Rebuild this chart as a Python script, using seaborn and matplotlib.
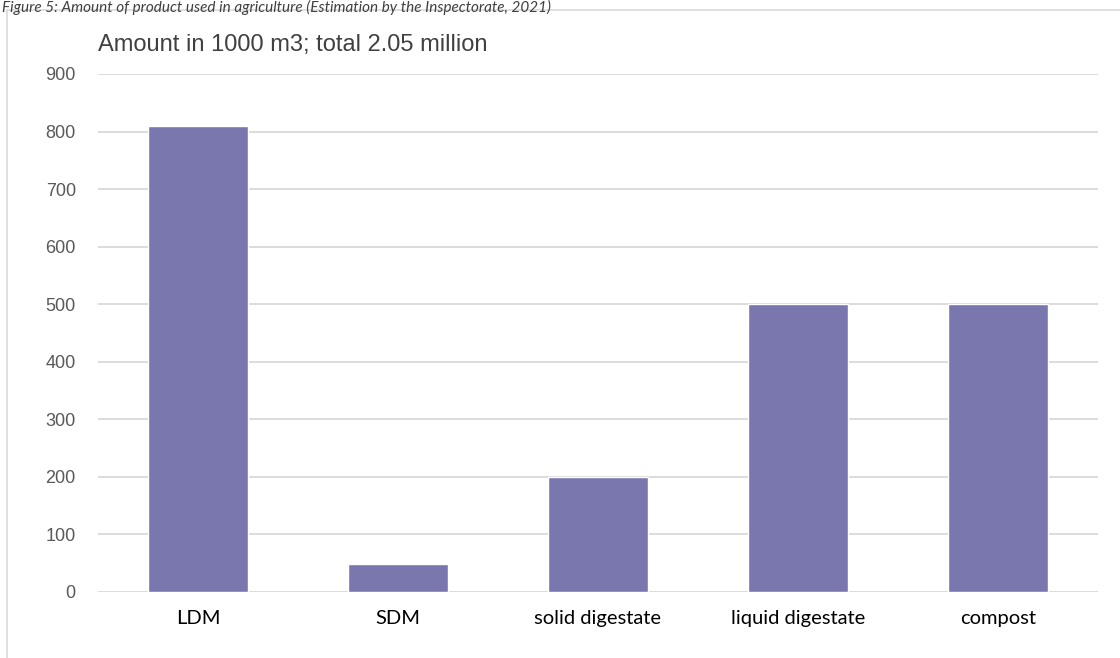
import matplotlib
matplotlib.use("Agg")
import matplotlib.pyplot as plt
import seaborn as sns
import pandas as pd
from matplotlib.patches import Rectangle

categories = ["LDM", "SDM", "solid digestate", "liquid digestate", "compost"]
values = [810, 48, 200, 500, 500]
yticks = [0, 100, 200, 300, 400, 500, 600, 700, 800, 900]
title = "Amount in 1000 m3; total 2.05 million"
caption = "Figure 5: Amount of product used in agriculture (Estimation by the Inspectorate, 2021)"

df = pd.DataFrame({"category": categories, "value": values})

sns.set_theme(style="white")
plt.rcParams['font.family'] = ['Liberation Sans', 'DejaVu Sans']

fig = plt.figure(figsize=(11.2, 6.58), dpi=100)
ax = fig.add_axes([98/1120, 1-592/658, 1000/1120, (592-74)/658])

sns.barplot(data=df, x="category", y="value", color="#7A77AF", saturation=1,
            width=0.5, ax=ax, zorder=3)

ax.set_ylim(0, 900)
ax.set_xlim(-0.5, 4.5)
ax.set_yticks(yticks)
ax.set_yticklabels([str(t) for t in yticks], fontsize=13, color="#595959",
                   family=['Liberation Sans', 'DejaVu Sans'])
ax.set_xticks(range(len(categories)))
ax.set_xticklabels(categories, fontsize=14.5, color="#000000",
                   family=['Lato', 'DejaVu Sans'])
ax.tick_params(axis='y', length=0, pad=16)
ax.tick_params(axis='x', length=0, pad=13)
ax.set_xlabel("")
ax.set_ylabel("")
for s in ax.spines.values():
    s.set_visible(False)
ax.yaxis.grid(True, color="#D9D9D9", linewidth=1.3, zorder=0)
ax.set_axisbelow(True)

fig.text(98/1120, 1-45/658, title, fontsize=17, color="#404040",
         ha="left", va="center", family=['Liberation Sans', 'DejaVu Sans'])

fig.text(2/1120, 1.0, caption, fontsize=11, style="italic", color="#404040",
         ha="left", va="top", family=['Lato', 'DejaVu Sans'], zorder=5)

border = Rectangle((7/1120, -0.01), 1.02, 1-10/658 + 0.01, transform=fig.transFigure,
                   fill=False, edgecolor="#D9D9D9", linewidth=1.2, clip_on=False, zorder=1)
fig.patches.append(border)

fig.savefig("out.png", dpi=100, facecolor="white")
